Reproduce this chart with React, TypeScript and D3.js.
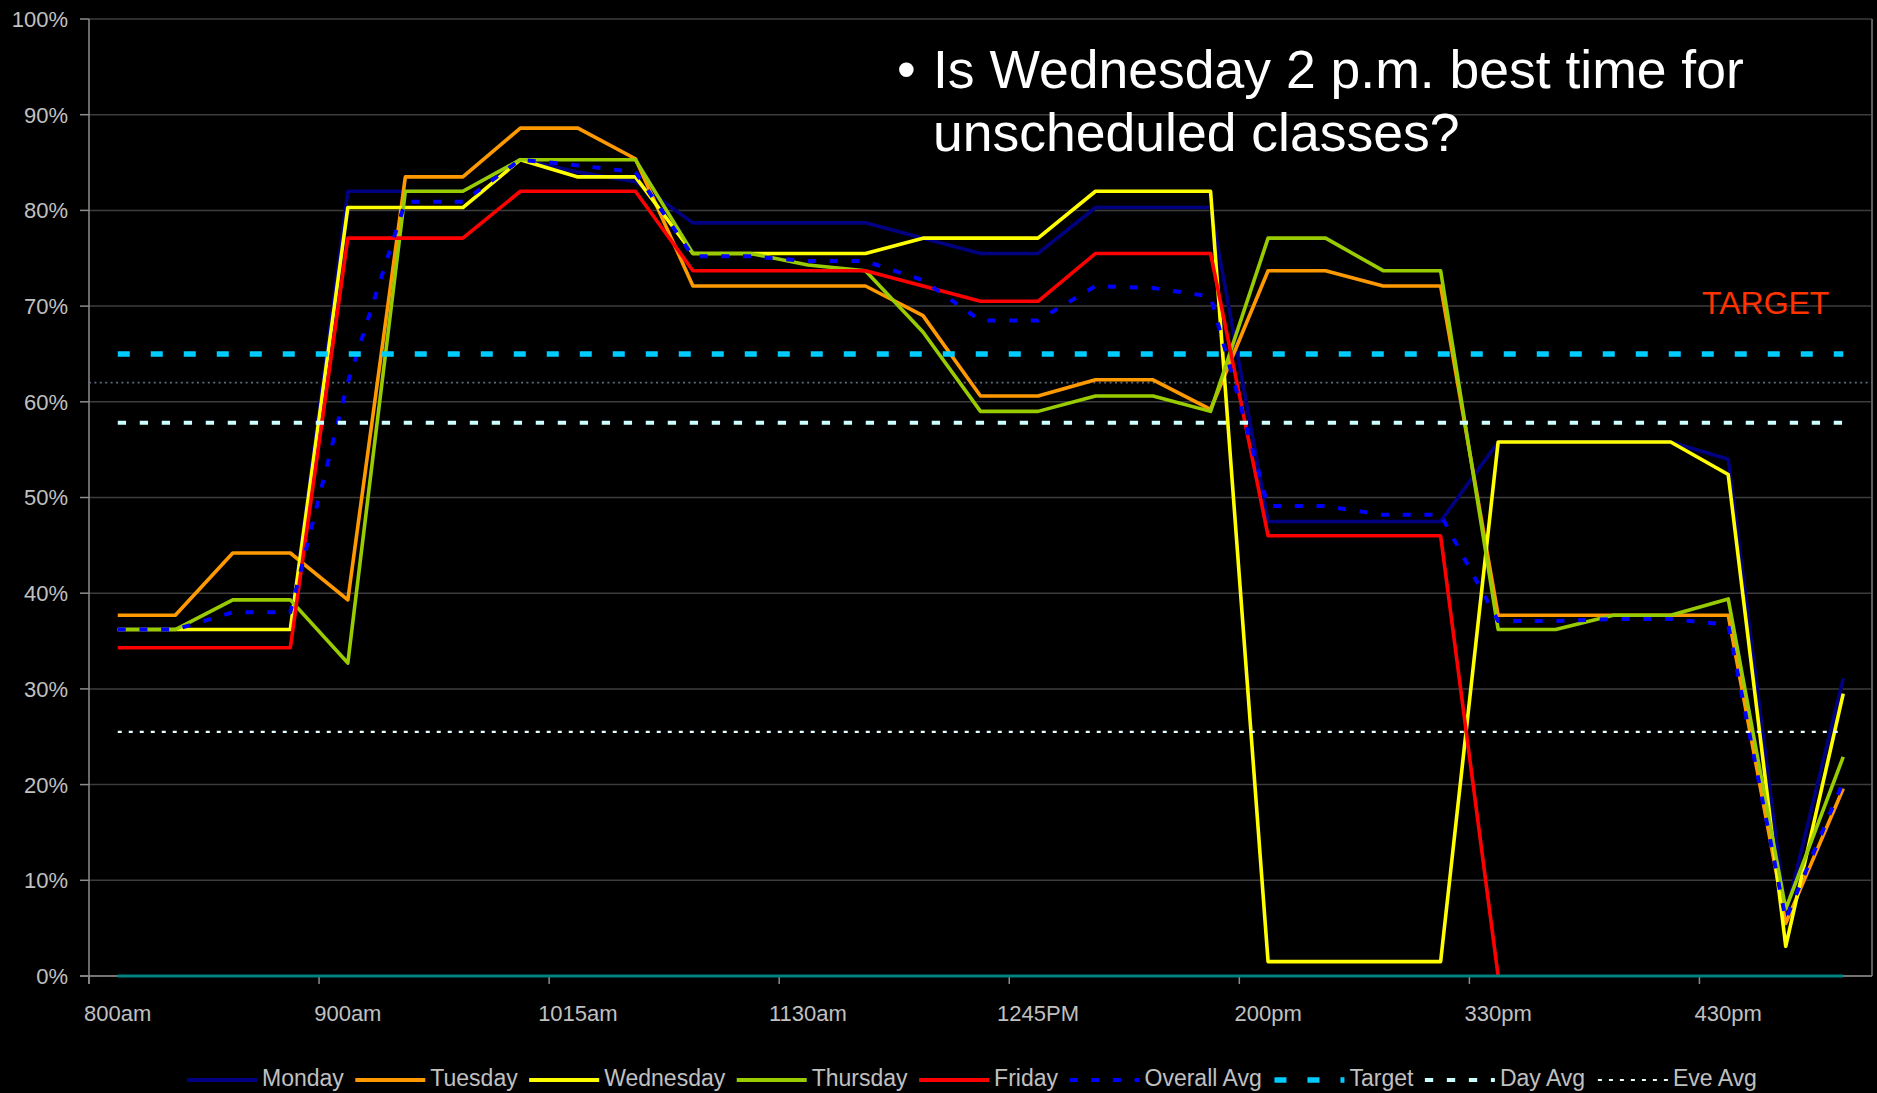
import { useEffect, useMemo } from 'react'
import * as d3 from 'd3'

// time slots on the x axis (only every 4th one gets a label)
const categories = [
  '800am', '815am', '830am', '845am', '900am', '915am', '930am', '1000am',
  '1015am', '1030am', '1045am', '1100am', '1130am', '1145am', '1200pm', '1230PM',
  '1245PM', '100pm', '115pm', '130pm', '200pm', '215pm', '230pm', '300pm',
  '330pm', '345pm', '400pm', '415pm', '430pm', '445pm', '500pm',
]

// utilisation in percent
const monday = [
  36.2, 36.2, 36.2, 36.2, 82.0, 82.0, 82.0, 85.3, 84.0, 83.0,
  78.7, 78.7, 78.7, 78.7, 77.1, 75.5, 75.5, 80.3, 80.3, 80.3,
  47.5, 47.5, 47.5, 47.5, 55.8, 55.8, 55.8, 55.8, 54.0, 6.4, 31.1,
]
const tuesday = [
  37.7, 37.7, 44.2, 44.2, 39.3, 83.5, 83.5, 88.6, 88.6, 85.4,
  72.1, 72.1, 72.1, 72.1, 69.0, 60.6, 60.6, 62.3, 62.3, 59.2,
  73.7, 73.7, 72.1, 72.1, 37.7, 37.7, 37.7, 37.7, 37.7, 5.5, 19.6,
]
const wednesday = [
  36.2, 36.2, 36.2, 36.2, 80.3, 80.3, 80.3, 85.3, 83.5, 83.5,
  75.5, 75.5, 75.5, 75.5, 77.1, 77.1, 77.1, 82.0, 82.0, 82.0,
  1.5, 1.5, 1.5, 1.5, 55.8, 55.8, 55.8, 55.8, 52.4, 3.1, 29.5,
]
const thursday = [
  36.2, 36.2, 39.3, 39.3, 32.7, 82.0, 82.0, 85.3, 85.3, 85.3,
  75.5, 75.5, 74.3, 73.7, 67.3, 59.0, 59.0, 60.6, 60.6, 59.0,
  77.1, 77.1, 73.7, 73.7, 36.2, 36.2, 37.7, 37.7, 39.4, 7.0, 22.9,
]
const friday: (number | null)[] = [
  34.3, 34.3, 34.3, 34.3, 77.1, 77.1, 77.1, 82.0, 82.0, 82.0,
  73.7, 73.7, 73.7, 73.7, 72.1, 70.5, 70.5, 75.5, 75.5, 75.5,
  46.0, 46.0, 46.0, 46.0, 0, null, null, null, null, null, null,
]
const overallAvg = [
  36.2, 36.2, 38.0, 38.0, 62.0, 80.9, 80.9, 85.3, 84.7, 84.0,
  75.2, 75.2, 74.7, 74.7, 72.7, 68.5, 68.5, 72.1, 71.9, 71.0,
  49.1, 49.1, 48.2, 48.2, 37.1, 37.1, 37.3, 37.3, 36.7, 5.9, 20.3,
]
const zeroLine = [0]

const TARGET = 65
const DAY_AVG = 57.8
const EVE_AVG = 25.5
const REFERENCE = 62

const yTicks = [0, 10, 20, 30, 40, 50, 60, 70, 80, 90, 100]

const W = 1877
const H = 1093
const M = { left: 89, right: 1872, top: 19, bottom: 976 }
const FONT = '"Liberation Sans", Arial, Helvetica, sans-serif'
const LABEL = '#C0C0C0'

type Series = {
  name: string
  color: string
  width: number
  dash?: string
  values?: (number | null)[]
  flat?: number
}

const SERIES: Series[] = [
  { name: 'Monday', values: monday, color: '#000080', width: 3.6 },
  { name: 'Tuesday', values: tuesday, color: '#FF9900', width: 3.6 },
  { name: 'Wednesday', values: wednesday, color: '#FFFF00', width: 3.6 },
  { name: 'Thursday', values: thursday, color: '#99CC00', width: 3.6 },
  { name: 'Friday', values: friday, color: '#FF0000', width: 3.6 },
  { name: 'Overall Avg', values: overallAvg, color: '#0000FF', width: 4, dash: '8 13.7' },
  { name: 'Target', flat: TARGET, color: '#00CCFF', width: 5.5, dash: '12 21' },
  { name: 'Day Avg', flat: DAY_AVG, color: '#CCFFFF', width: 4, dash: '8.3 13.7' },
  { name: 'Eve Avg', flat: EVE_AVG, color: '#E8FFFF', width: 2.2, dash: '4 7' },
]

function textWidth(s: string, size: number): number {
  const ctx = document.createElement('canvas').getContext('2d')
  if (!ctx) return s.length * size * 0.55
  ctx.font = `${size}px ${FONT}`
  return ctx.measureText(s).width
}

export default function App() {
  useEffect(() => {
    document.body.style.margin = '0'
    document.body.style.background = '#000'
  }, [])

  const x = d3.scaleBand<string>().domain(categories).range([M.left, M.right]).padding(0)
  const cx = (i: number) => (x(categories[i]) ?? 0) + x.bandwidth() / 2
  const y = d3.scaleLinear().domain([0, 100]).range([M.bottom, M.top])

  const line = d3
    .line<number | null>()
    .defined(v => v != null)
    .x((_, i) => cx(i))
    .y(v => y(v as number))

  const first = cx(0)
  const last = cx(categories.length - 1)

  // legend layout from measured label widths
  const legend = useMemo(() => {
    const size = 23
    let pos = 187
    return SERIES.map(s => {
      const item = { ...s, x: pos, tx: pos + 75 }
      pos += 75 + textWidth(s.name, size) + 11.5
      return item
    })
  }, [])

  return (
    <svg
      width={W}
      height={H}
      style={{ display: 'block', position: 'absolute', left: 0, top: 0, background: '#000' }}
      fontFamily={FONT}
    >
      <rect x={0} y={0} width={W} height={H} fill="#000" />

      {/* gridlines */}
      {yTicks.map(t => (
        <line key={t} x1={M.left} x2={M.right} y1={y(t)} y2={y(t)} stroke="#3c3c3c" strokeWidth={1.5} />
      ))}

      {/* plot border on the right */}
      <line x1={M.right} x2={M.right} y1={M.top} y2={M.bottom} stroke="#5c5c5c" strokeWidth={2} />

      {/* axes */}
      <line x1={M.left} x2={M.left} y1={M.top} y2={M.bottom + 8} stroke="#8c8c8c" strokeWidth={1.5} />
      <line x1={M.left - 9} x2={M.right} y1={M.bottom} y2={M.bottom} stroke="#8c8c8c" strokeWidth={1.5} />
      {yTicks.map(t => (
        <g key={t}>
          <line x1={M.left - 9} x2={M.left} y1={y(t)} y2={y(t)} stroke="#8c8c8c" strokeWidth={1.5} />
          <text x={68} y={y(t)} dy="0.36em" textAnchor="end" fontSize={22} fill={LABEL}>
            {t}%
          </text>
        </g>
      ))}
      {categories.map((c, i) =>
        i % 4 === 0 ? (
          <g key={c}>
            <line x1={x(c)} x2={x(c)} y1={M.bottom} y2={M.bottom + 8} stroke="#8c8c8c" strokeWidth={1.5} />
            <text x={cx(i)} y={1021} textAnchor="middle" fontSize={22} fill={LABEL}>
              {c}
            </text>
          </g>
        ) : null
      )}

      {/* thin grey reference line */}
      <line
        x1={M.left}
        x2={M.right}
        y1={y(REFERENCE)}
        y2={y(REFERENCE)}
        stroke="#5a6a7c"
        strokeWidth={1.6}
        strokeDasharray="2 3.4"
      />

      {/* series */}
      {SERIES.map(s =>
        s.values ? (
          <path
            key={s.name}
            d={line(s.values) ?? ''}
            fill="none"
            stroke={s.color}
            strokeWidth={s.width}
            strokeDasharray={s.dash}
            strokeLinejoin="round"
          />
        ) : (
          <line
            key={s.name}
            x1={first}
            x2={last}
            y1={y(s.flat ?? 0)}
            y2={y(s.flat ?? 0)}
            stroke={s.color}
            strokeWidth={s.width}
            strokeDasharray={s.dash}
          />
        )
      )}

      {/* teal zero series */}
      <line x1={first} x2={last} y1={y(zeroLine[0])} y2={y(zeroLine[0])} stroke="#008080" strokeWidth={3} />

      {/* annotations */}
      <text x={1702} y={314} fontSize={32} fill="#FF3300">
        TARGET
      </text>
      <g fill="#FFFFFF" fontSize={53.5}>
        <text x={897} y={88}>•</text>
        <text x={933} y={88}>Is Wednesday 2 p.m. best time for</text>
        <text x={933} y={151}>unscheduled classes?</text>
      </g>

      {/* legend */}
      {legend.map(l => (
        <g key={l.name}>
          <line
            x1={l.x}
            x2={l.x + 70}
            y1={1080}
            y2={1080}
            stroke={l.color}
            strokeWidth={l.name === 'Target' ? 5.5 : l.name === 'Eve Avg' ? 2.2 : 4}
            strokeDasharray={l.dash}
          />
          <text x={l.tx} y={1086} fontSize={23} fill={LABEL}>
            {l.name}
          </text>
        </g>
      ))}
    </svg>
  )
}
